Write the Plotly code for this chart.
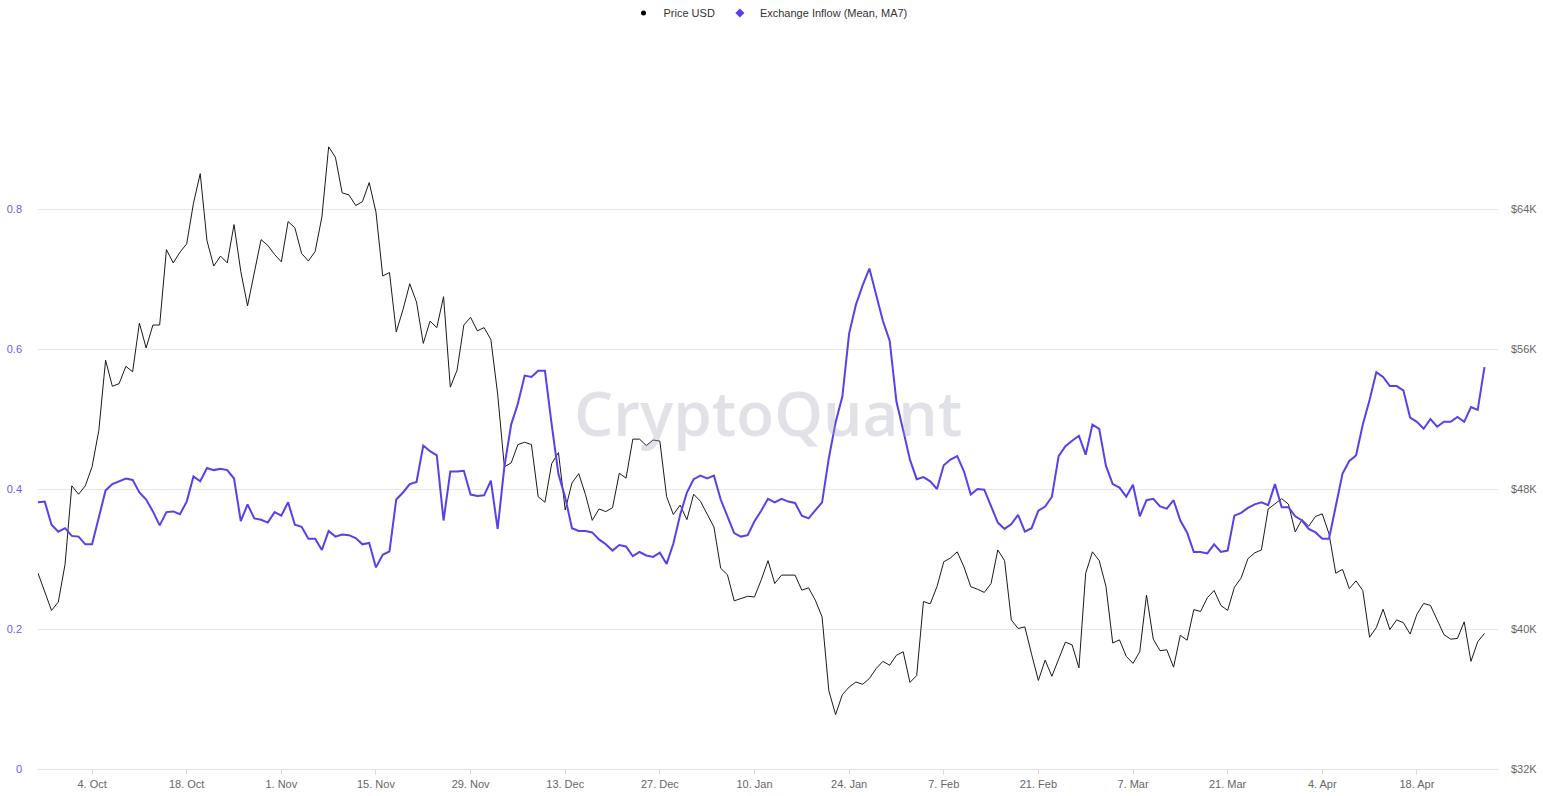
import pandas as pd
import plotly.graph_objects as go

start_date = "2021-09-26"

exchange_inflow = [
    0.381, 0.382, 0.349, 0.339, 0.344, 0.333, 0.332, 0.321, 0.321, 0.359,
    0.398, 0.407, 0.411, 0.415, 0.413, 0.395, 0.385, 0.368, 0.348, 0.367,
    0.368, 0.364, 0.382, 0.418, 0.411, 0.430, 0.427, 0.429, 0.427, 0.415,
    0.354, 0.378, 0.358, 0.356, 0.352, 0.367, 0.362, 0.381, 0.349, 0.346,
    0.329, 0.329, 0.313, 0.340, 0.332, 0.335, 0.334, 0.330, 0.321, 0.323,
    0.288, 0.306, 0.311, 0.385, 0.395, 0.407, 0.410, 0.462, 0.454, 0.448,
    0.355, 0.425, 0.425, 0.426, 0.392, 0.390, 0.391, 0.412, 0.343, 0.432,
    0.492, 0.522, 0.562, 0.560, 0.569, 0.569, 0.492, 0.421, 0.388, 0.344,
    0.340, 0.340, 0.338, 0.328, 0.321, 0.312, 0.320, 0.318, 0.304, 0.310,
    0.305, 0.303, 0.309, 0.293, 0.322, 0.363, 0.395, 0.414, 0.419, 0.415,
    0.419, 0.385, 0.361, 0.337, 0.332, 0.334, 0.354, 0.369, 0.386, 0.381,
    0.386, 0.382, 0.380, 0.362, 0.358, 0.370, 0.381, 0.444, 0.495, 0.532,
    0.622, 0.663, 0.691, 0.715, 0.678, 0.640, 0.612, 0.525, 0.484, 0.442,
    0.414, 0.417, 0.411, 0.400, 0.434, 0.442, 0.447, 0.425, 0.392, 0.400,
    0.399, 0.375, 0.352, 0.343, 0.350, 0.363, 0.339, 0.344, 0.369, 0.375,
    0.389, 0.447, 0.461, 0.469, 0.476, 0.449, 0.492, 0.486, 0.433, 0.407,
    0.402, 0.389, 0.406, 0.361, 0.384, 0.386, 0.375, 0.372, 0.384, 0.355,
    0.338, 0.310, 0.310, 0.308, 0.321, 0.310, 0.312, 0.362, 0.366, 0.373,
    0.378, 0.381, 0.377, 0.407, 0.374, 0.374, 0.361, 0.355, 0.343, 0.338,
    0.329, 0.329, 0.375, 0.422, 0.440, 0.448, 0.492, 0.527, 0.567, 0.560,
    0.547, 0.547, 0.541, 0.502, 0.496, 0.486, 0.500, 0.489, 0.496, 0.496,
    0.503, 0.496, 0.517, 0.513, 0.574,
]

price_usd = [
    43190, 42160, 41060, 41540, 43690, 48180, 47700, 48180, 49270, 51350,
    55360, 53870, 54020, 55010, 54700, 57480, 56060, 57370, 57370, 61680,
    60920, 61530, 62010, 64330, 66020, 62190, 60740, 61310, 60920, 63110,
    60440, 58470, 60440, 62250, 61920, 61400, 60980, 63280, 62930, 61460,
    61030, 61570, 63540, 67550, 66960, 64920, 64810, 64200, 64420, 65510,
    63830, 60170, 60370, 56980, 58250, 59730, 58680, 56320, 57590, 57220,
    58990, 53820, 54790, 57370, 57810, 57040, 57220, 56540, 53430, 49270,
    49490, 50540, 50670, 50540, 47560, 47240, 49450, 50080, 46800, 48350,
    48880, 47670, 46210, 46860, 46710, 46930, 48900, 48620, 50850, 50850,
    50480, 50800, 50740, 47560, 46540, 47080, 46250, 47700, 47300, 46540,
    45830, 43470, 43100, 41610, 41720, 41870, 41830, 42810, 43910, 42600,
    43080, 43100, 43080, 42220, 42350, 41650, 40690, 36470, 35110, 36250,
    36680, 36970, 36840, 37170, 37740, 38150, 37930, 38500, 38700, 36950,
    37340, 41570, 41440, 42420, 43840, 44060, 44410, 43540, 42420, 42270,
    42090, 42600, 44520, 43910, 40520, 40030, 40120, 38550, 37060, 38220,
    37300, 38280, 39250, 39090, 37780, 43190, 44410, 43910, 42440, 39200,
    39380, 38440, 38040, 38700, 41940, 39420, 38760, 38810, 37820, 39640,
    39360, 41110, 41000, 41790, 42200, 41350, 41060, 42380, 42920, 44020,
    44350, 44520, 46860, 47150, 47450, 47130, 45550, 46250, 45880, 46430,
    46580, 45440, 43190, 43410, 42310, 42750, 42200, 39530, 40080, 41130,
    39970, 40520, 40360, 39710, 40840, 41460, 41350, 40520, 39680, 39420,
    39460, 40410, 38150, 39270, 39750,
]

x_tick_dates = ["2021-10-04", "2021-10-18", "2021-11-01", "2021-11-15", "2021-11-29",
                "2021-12-13", "2021-12-27", "2022-01-10", "2022-01-24", "2022-02-07",
                "2022-02-21", "2022-03-07", "2022-03-21", "2022-04-04", "2022-04-18"]
x_tick_labels = ["4. Oct", "18. Oct", "1. Nov", "15. Nov", "29. Nov", "13. Dec", "27. Dec",
                 "10. Jan", "24. Jan", "7. Feb", "21. Feb", "7. Mar", "21. Mar", "4. Apr", "18. Apr"]

left_tick_vals = [0, 0.2, 0.4, 0.6, 0.8, 1.0]
left_tick_labels = ["0", "0.2", "0.4", "0.6", "0.8", ""]
right_tick_vals = [32000, 40000, 48000, 56000, 64000, 72000]
right_tick_labels = ["$32K", "$40K", "$48K", "$56K", "$64K", ""]

dates = pd.date_range(start_date, periods=len(price_usd), freq="D")

BLACK = "#1a1a1a"
PURPLE = "#5641ea"
FONT = "Liberation Sans, Arial, sans-serif"

fig = go.Figure()

# Price on the primary (right-side) axis, inflow drawn on top on the overlay axis
fig.add_trace(go.Scatter(
    x=dates, y=price_usd, mode="lines", name="Price USD",
    line=dict(color=BLACK, width=1), yaxis="y", showlegend=False,
))
fig.add_trace(go.Scatter(
    x=dates, y=exchange_inflow, mode="lines", name="Exchange Inflow (Mean, MA7)",
    line=dict(color=PURPLE, width=2), yaxis="y2", showlegend=False,
))
# legend entries (marker symbols like the reference)
fig.add_trace(go.Scatter(
    x=[None], y=[None], mode="markers", name="Price USD",
    marker=dict(symbol="circle", size=5, color="#000000"), yaxis="y",
))
fig.add_trace(go.Scatter(
    x=[None], y=[None], mode="markers", name="Exchange Inflow (Mean, MA7)",
    marker=dict(symbol="diamond", size=7, color=PURPLE), yaxis="y2",
))

fig.update_layout(
    width=1543, height=796,
    margin=dict(l=38, r=45, t=69, b=27, autoexpand=False),
    paper_bgcolor="white", plot_bgcolor="white",
    font=dict(family=FONT, size=11, color="#333333"),
    showlegend=True,
    legend=dict(orientation="h", x=0.5, xanchor="center", y=1.08, yanchor="middle",
                font=dict(size=11, color="#333333"), itemwidth=30,
                bgcolor="rgba(0,0,0,0)"),
    xaxis=dict(
        type="date", range=["2021-09-26", "2022-04-30"],
        tickvals=x_tick_dates, ticktext=x_tick_labels,
        showgrid=False, zeroline=False, automargin=False,
        showline=True, linecolor="#e3e3e3", linewidth=1,
        ticks="outside", ticklen=5, tickcolor="#dcdcdc", tickwidth=1,
        tickfont=dict(size=11, color="#666666"),
    ),
    yaxis=dict(
        side="right", range=[32000, 72000], automargin=False,
        tickvals=right_tick_vals, ticktext=right_tick_labels,
        showgrid=True, gridcolor="#e8e8e8", gridwidth=1, zeroline=False,
        tickfont=dict(size=11, color="#666666"), ticklabelstandoff=12,
    ),
    yaxis2=dict(
        overlaying="y", side="left", range=[0, 1], automargin=False,
        tickvals=left_tick_vals, ticktext=left_tick_labels,
        showgrid=False, zeroline=False,
        tickfont=dict(size=11, color="#6a5cf0"), ticklabelstandoff=15,
    ),
    annotations=[dict(
        text="CryptoQuant", xref="paper", yref="paper", x=0.5, y=0.51,
        xanchor="center", yanchor="middle", showarrow=False,
        font=dict(family="Open Sans, sans-serif", size=62, color="rgba(170,170,190,0.35)", weight=600),
    )],
)

fig.write_html(
    "out.html",
    config={"displayModeBar": False},
    post_script="document.body.style.margin='0';document.body.style.overflow='hidden';",
)
